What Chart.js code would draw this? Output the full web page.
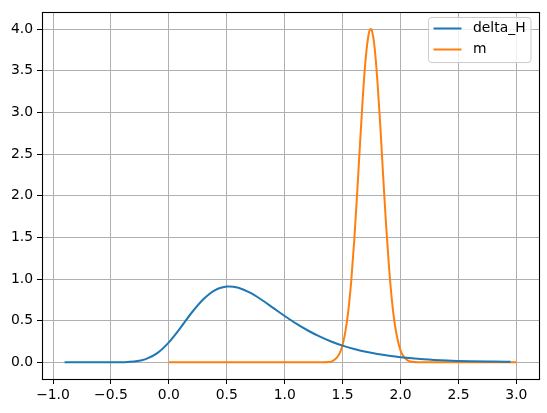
<!DOCTYPE html>
<html lang="en">
<head>
    <meta charset="UTF-8">
    <title>delta_H and m</title>
    <script src="https://cdn.jsdelivr.net/npm/chart.js"></script>
    <style>
        body { margin: 0; background: #fff; }
    </style>
</head>
<body>
    <canvas id="chart" width="547" height="413"></canvas>

    <script>
        // delta_H curve
        const hX = [-0.9, -0.6, -0.5, -0.4, -0.3, -0.2, -0.1, 0.0, 0.1, 0.2, 0.3, 0.4, 0.5, 0.52,
                    0.6, 0.7, 0.8, 0.9, 1.0, 1.1, 1.2, 1.3, 1.4, 1.5, 1.6, 1.7, 1.8, 1.9, 2.0,
                    2.2, 2.4, 2.6, 2.8, 2.95];
        const hY = [0.0, 0.0, 0.0001, 0.0014, 0.009, 0.039, 0.111, 0.240, 0.414, 0.601, 0.760, 0.867, 0.909, 0.911,
                    0.894, 0.836, 0.751, 0.654, 0.556, 0.464, 0.382, 0.311, 0.250, 0.200, 0.159, 0.126, 0.100, 0.079, 0.062,
                    0.038, 0.023, 0.014, 0.009, 0.006];

        // m curve
        const mX = [0.0, 1.3, 1.4, 1.425, 1.45, 1.475, 1.5, 1.525, 1.55, 1.575, 1.6, 1.625, 1.65, 1.675,
                    1.7, 1.725, 1.742, 1.75, 1.775, 1.8, 1.825, 1.85, 1.875, 1.9, 1.925, 1.95, 1.975,
                    2.0, 2.025, 2.05, 2.075, 2.1, 2.15, 3.0];
        const mY = [0.0, 0.0, 0.006, 0.026, 0.056, 0.11, 0.21, 0.38, 0.63, 0.99, 1.46, 2.02, 2.62, 3.20,
                    3.66, 3.94, 4.00, 3.99, 3.79, 3.38, 2.84, 2.23, 1.65, 1.15, 0.75, 0.46, 0.27,
                    0.14, 0.073, 0.035, 0.015, 0.006, 0.0, 0.0];

        const xTicks = [-1.0, -0.5, 0.0, 0.5, 1.0, 1.5, 2.0, 2.5, 3.0];
        const yTicks = [0.0, 0.5, 1.0, 1.5, 2.0, 2.5, 3.0, 3.5, 4.0];

        const toPoints = (xs, ys) => xs.map((x, i) => ({ x: x, y: ys[i] }));
        const fmt = v => v.toFixed(1).replace('-', '\u2212');
        const FONT = { family: 'DejaVu Sans', size: 13.9 };

        // box around the axes + legend in the upper right corner
        const framePlugin = {
            id: 'frame',
            afterDraw(chart) {
                const c = chart.ctx;
                const a = chart.chartArea;
                c.save();
                c.strokeStyle = '#000';
                c.lineWidth = 1.1;
                c.strokeRect(Math.round(a.left) + 0.5, Math.round(a.top) + 0.5,
                             Math.round(a.right - a.left), Math.round(a.bottom - a.top));

                // legend
                const bx = 428.5, by = 17.5, bw = 102.5, bh = 45;
                c.beginPath();
                c.roundRect(bx, by, bw, bh, 3);
                c.fillStyle = 'rgba(255,255,255,0.8)';
                c.fill();
                c.strokeStyle = '#cccccc';
                c.lineWidth = 1;
                c.stroke();
                c.font = '13.9px "DejaVu Sans"';
                c.textBaseline = 'middle';
                chart.data.datasets.forEach((ds, i) => {
                    const y = 28.5 + i * 21;
                    c.beginPath();
                    c.moveTo(433.5, y);
                    c.lineTo(461.5, y);
                    c.strokeStyle = ds.borderColor;
                    c.lineWidth = 2;
                    c.stroke();
                    c.fillStyle = '#000';
                    c.fillText(ds.label, 473, y);
                });
                c.restore();
            }
        };

        new Chart(document.getElementById('chart'), {
            type: 'line',
            data: {
                datasets: [
                    {
                        label: 'delta_H',
                        data: toPoints(hX, hY),
                        borderColor: '#1f77b4',
                        borderWidth: 2,
                        pointRadius: 0,
                        cubicInterpolationMode: 'monotone',
                        fill: false
                    },
                    {
                        label: 'm',
                        data: toPoints(mX, mY),
                        borderColor: '#ff7f0e',
                        borderWidth: 2,
                        pointRadius: 0,
                        cubicInterpolationMode: 'monotone',
                        fill: false
                    }
                ]
            },
            options: {
                responsive: false,
                animation: false,
                layout: { padding: { top: 10, right: 8, left: 0, bottom: 0 } },
                plugins: { legend: { display: false }, tooltip: { enabled: false } },
                scales: {
                    x: {
                        type: 'linear',
                        min: -1.095,
                        max: 3.195,
                        afterBuildTicks: s => { s.ticks = xTicks.map(v => ({ value: v })); },
                        afterFit: s => { s.height = 34; },
                        border: { display: false },
                        grid: { color: '#b0b0b0', lineWidth: 1, tickColor: '#000', tickLength: 5 },
                        ticks: { color: '#000', font: FONT, padding: 3, maxRotation: 0,
                                 autoSkip: false, callback: v => fmt(v) }
                    },
                    y: {
                        min: -0.2,
                        max: 4.2,
                        afterBuildTicks: s => { s.ticks = yTicks.map(v => ({ value: v })); },
                        afterFit: s => { s.width = 42; },
                        border: { display: false },
                        grid: { color: '#b0b0b0', lineWidth: 1, tickColor: '#000', tickLength: 5 },
                        ticks: { color: '#000', font: FONT, padding: 4,
                                 autoSkip: false, callback: v => fmt(v) }
                    }
                }
            },
            plugins: [framePlugin]
        });
    </script>
</body>
</html>
